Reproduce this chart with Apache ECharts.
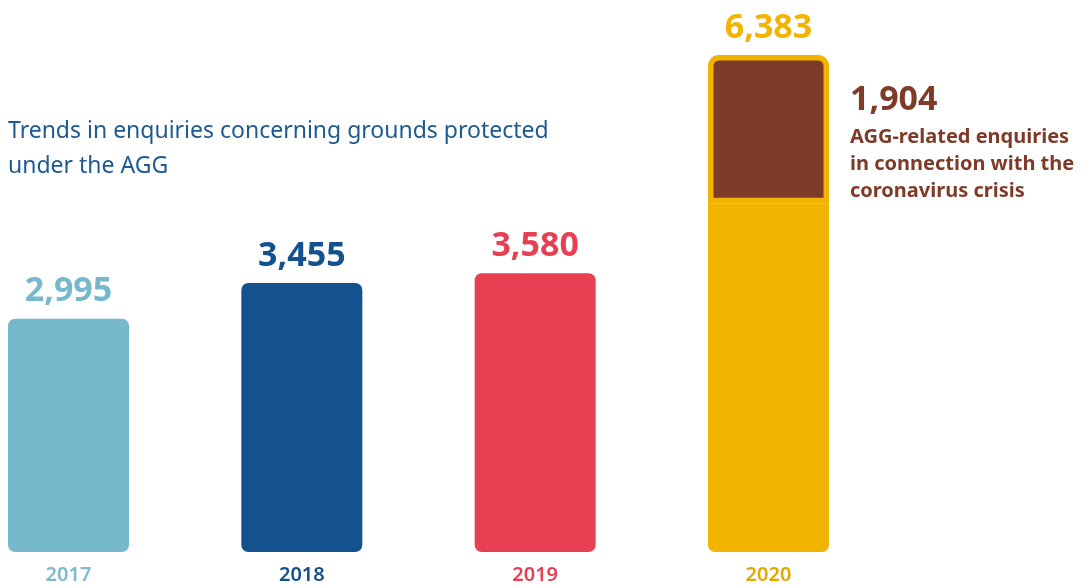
<!DOCTYPE html>
<html>
<head>
<meta charset="utf-8">
<script src="https://cdn.jsdelivr.net/npm/echarts@6/dist/echarts.min.js"></script>
<style>
  html, body { margin: 0; padding: 0; background: #ffffff; }
  #chart { width: 1086px; height: 586px; }
</style>
</head>
<body>
<div id="chart"></div>
<script>
// ---- data ----
const years = ['2017', '2018', '2019', '2020'];
const totals = [2995, 3455, 3580, 6383];
const coronaRelated = [null, null, null, 1904];
const barColors = ['#76b9cc', '#14518f', '#e64052', '#f2b400'];
const yearLabelColors = ['#7dbcd0', '#14518f', '#e64052', '#e2a800'];
const brown = '#7d3b28';
const titleText = 'Trends in enquiries concerning grounds protected\nunder the AGG';
const noteLines = ['AGG-related enquiries', 'in connection with the', 'coronavirus crisis'];

const fmt = v => Number(v).toLocaleString('en-US');
const baseValues = totals.map((t, i) => coronaRelated[i] == null ? t : t - coronaRelated[i]);
const FONT = '"Noto Sans", "Open Sans", sans-serif';
const R = 7;

const chart = echarts.init(document.getElementById('chart'), null, { renderer: 'canvas' });
chart.setOption({
  animation: false,
  backgroundColor: '#ffffff',
  title: {
    text: titleText,
    left: 8,
    top: 114,
    padding: 0,
    textStyle: { fontFamily: FONT, fontSize: 23, fontWeight: 'normal', color: '#1d5a92', lineHeight: 35 }
  },
  grid: { left: 68.5, right: 317.5, top: 55, bottom: 34 },
  xAxis: {
    type: 'category',
    data: years,
    boundaryGap: false,
    axisLine: { show: false },
    axisTick: { show: false },
    axisLabel: {
      margin: 13,
      fontFamily: FONT,
      fontSize: 20,
      fontWeight: 600,
      color: (v, i) => yearLabelColors[i]
    }
  },
  yAxis: { type: 'value', min: 0, max: 6383, show: false, splitLine: { show: false } },
  series: [
    {
      name: 'base',
      type: 'bar',
      stack: 'enq',
      barWidth: 121,
      clip: false,
      data: baseValues.map((v, i) => ({
        value: v,
        itemStyle: {
          color: barColors[i],
          borderRadius: coronaRelated[i] == null ? R : [0, 0, R, R]
        }
      }))
    },
    {
      name: 'corona',
      type: 'bar',
      stack: 'enq',
      barWidth: 121,
      clip: false,
      data: coronaRelated.map((v, i) => v == null ? null : {
        value: v,
        itemStyle: {
          color: brown,
          borderColor: barColors[i],
          borderWidth: 5.5,
          borderRadius: [R + 1, R + 1, 0, 0]
        }
      }),
      label: {
        show: true,
        position: ['100%', 0],
        offset: [21, 22],
        align: 'left',
        verticalAlign: 'top',
        formatter: p => '{v|' + fmt(p.value) + '}\n' + noteLines.map(l => '{t|' + l + '}').join('\n'),
        rich: {
          v: { fontFamily: FONT, fontSize: 34, fontWeight: 'bold', color: brown, lineHeight: 47 },
          t: { fontFamily: FONT, fontSize: 20, fontWeight: 'bold', color: brown, lineHeight: 27 }
        }
      }
    },
    {
      name: 'total',
      type: 'bar',
      barGap: '-100%',
      barWidth: 121,
      clip: false,
      silent: true,
      z: 1,
      data: totals.map((v, i) => ({
        value: v,
        itemStyle: { color: 'rgba(0,0,0,0)' },
        label: { color: barColors[i] }
      })),
      label: {
        show: true,
        position: 'top',
        distance: 10,
        fontFamily: FONT,
        fontSize: 34,
        fontWeight: 'bold',
        formatter: p => fmt(p.value)
      }
    }
  ]
});
</script>
</body>
</html>
